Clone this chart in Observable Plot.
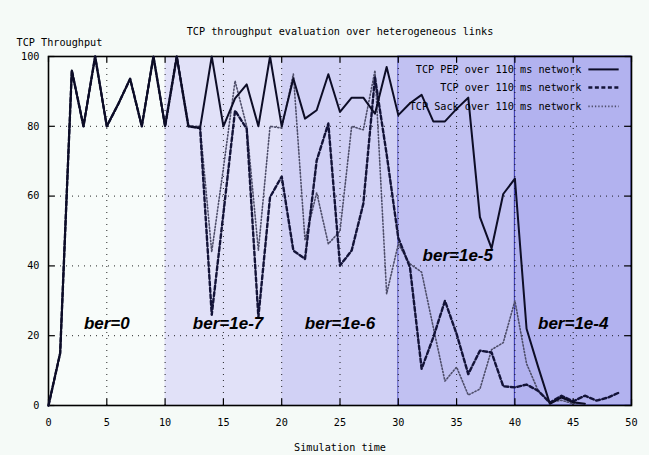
<!DOCTYPE html>
<html><head><meta charset="utf-8">
<script src="https://cdn.jsdelivr.net/npm/d3@7"></script>
<script src="https://cdn.jsdelivr.net/npm/@observablehq/plot@0.6"></script>
<style>
html,body{margin:0;padding:0;background:#f5faf7;}
#chart svg{display:block;}
</style></head><body><div id="chart"></div>
<script>
// ---- data ----
const timeAll = [0,1,2,3,4,5,6,7,8,9,10,11,12,13,14,15,16,17,18,19,20,21,22,23,24,25,26,27,28,29,30,31,32,33,34,35,36,37,38,39,40,41,42,43,44,45,46,47,48,49];
const pepValues = [0,15,96,80,100,80,86.5,93.6,80,100,80,100,80,79.5,100,80,88,92,80,100,80,93.7,82.2,84.6,94.9,84.1,88.2,88.2,83.6,97,83.2,86.6,89,81.4,81.4,85,88.2,54,45,60.6,65,22,11,0.5,2.3,0.9,0.5];
const tcpValues = [0,15,96,80,100,80,86.5,93.6,80,100,80,100,80,79.5,26,55,84.5,79.3,25.3,59.7,65.6,44.4,42,70.2,80.8,40.1,44.4,57.8,94,72,48,39.6,10.5,19.5,30,20.5,9,15.7,15.2,5.5,5.2,6,4.2,0.8,2.8,1.2,2.8,1.4,2.3,3.8];
const sackValues = [0,15,96,80,100,80,86.5,93.6,80,100,80,100,80,80,44,68,93,80,44.4,80,79.5,95,47.3,61,46.3,50,80,79,96,32,46.3,40.6,38.2,22.4,7,11,3,4.7,16,18,30,12,4.2,1,1.5,0.5,0.5];
const seriesNames = ["TCP PEP over 110 ms network","TCP over 110 ms network","TCP Sack over 110 ms network"];
const bandStart = [0,10,20,30,40];
const bandEnd = [10,20,30,40,50];
const berLabels = ["ber=0","ber=1e-7","ber=1e-6","ber=1e-5","ber=1e-4"];
const berX = [5,15.4,25,35.1,45];
const berY = [23.5,23.5,23.5,43,23.5];
const xTicks = [0,5,10,15,20,25,30,35,40,45,50];
const yTicks = [0,20,40,60,80,100];

// ---- styles ----
const bandFill = ["#f8fcfa","#e1e1f8","#d1d1f5","#c1c1f2","#b2b2ef"];
const bandStroke = ["none","none","none","#5a5ac8","#3c3cb4"];
const mono = "DejaVu Sans Mono";
const fs = 10.2;

const toRows = (vals) => vals.map((v,i)=>({t: timeAll[i], v}));
const pep = toRows(pepValues), tcp = toRows(tcpValues), sack = toRows(sackValues);
const bands = bandStart.map((s,i)=>({s, e: bandEnd[i], fill: bandFill[i], stroke: bandStroke[i]}));
const bers = berLabels.map((l,i)=>({l, x: berX[i], y: berY[i]}));

const styles = [
  {stroke:"#0d0d26", strokeWidth:2},
  {stroke:"#131338", strokeWidth:2.4, strokeDasharray:"4,2.5"},
  {stroke:"#4e4e6a", strokeWidth:1.6, strokeDasharray:"1.3,2"}
];
// legend layout (data units of the frame)
const legX1 = 46.3, legX2 = 48.9, legY = [96.3, 91.1, 85.7];

const chart = Plot.plot({
  width: 649, height: 455,
  marginLeft: 48, marginRight: 18, marginTop: 56, marginBottom: 50,
  style: {background: "#f5faf7", fontFamily: mono, fontSize: fs + "px", color: "#000"},
  x: {domain: [0,50]},
  y: {domain: [0,100]},
  color: {type: "identity"},
  marks: [
    Plot.rect(bands, {x1:"s", x2:"e", y1:0, y2:100, fill:"fill", stroke:"stroke", strokeWidth:1}),
    Plot.ruleX(xTicks.slice(1,-1), {stroke:"#000", strokeWidth:1, strokeDasharray:"1,5", strokeOpacity:0.85}),
    Plot.ruleY(yTicks.slice(1,-1), {stroke:"#000", strokeWidth:1, strokeDasharray:"1,5", strokeOpacity:0.85}),
    // inward ticks
    Plot.ruleX(xTicks, {y1:0, y2:1.8, stroke:"#000", strokeWidth:1.2}),
    Plot.ruleX(xTicks, {y1:98.2, y2:100, stroke:"#000", strokeWidth:1.2}),
    Plot.ruleY(yTicks, {x1:0, x2:0.55, stroke:"#000", strokeWidth:1.2}),
    Plot.ruleY(yTicks, {x1:49.45, x2:50, stroke:"#000", strokeWidth:1.2}),
    Plot.frame({stroke:"#000", strokeWidth:1.6}),
    Plot.line(sack, {x:"t", y:"v", ...styles[2]}),
    Plot.line(tcp, {x:"t", y:"v", ...styles[1]}),
    Plot.line(pep, {x:"t", y:"v", ...styles[0]}),
    Plot.text(bers, {x:"x", y:"y", text:"l", fontFamily:"Liberation Sans", fontWeight:"bold", fontStyle:"italic", fontSize:17, fill:"#000"}),
    // legend
    ...seriesNames.map((n,i)=>Plot.text([n], {x: legX1 - 0.6, y: legY[i], text: d=>d, textAnchor:"end", fill:"#000", fontSize: fs})),
    ...seriesNames.map((n,i)=>Plot.link([n], {x1: legX1, x2: legX2, y1: legY[i], y2: legY[i], ...styles[i]})),
    // axes
    Plot.axisX({ticks: xTicks, tickSize: 0, tickPadding: 13, fontSize: fs, label: null}),
    Plot.axisY({ticks: yTicks, tickSize: 0, tickPadding: 9, fontSize: fs, label: null}),
    Plot.text(["TCP throughput evaluation over heterogeneous links"], {frameAnchor:"top", dy:-29, text:d=>d, fontSize: fs, fill:"#000"}),
    Plot.text(["TCP Throughput"], {frameAnchor:"top-left", textAnchor:"start", dx:-32, dy:-18, text:d=>d, fontSize: fs, fill:"#000"}),
    Plot.text(["Simulation time"], {frameAnchor:"bottom", dy:45, text:d=>d, fontSize: fs, fill:"#000"})
  ]
});
document.getElementById("chart").appendChild(chart);
</script></body></html>
